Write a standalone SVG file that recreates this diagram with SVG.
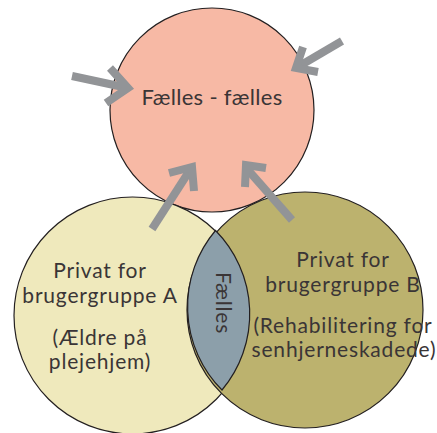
<svg xmlns="http://www.w3.org/2000/svg" width="437" height="433" viewBox="0 0 437 433">
<style>
.c{stroke:#231f20;stroke-width:1.2}
.t{font-family:Lato,"Open Sans",sans-serif;font-size:21px;fill:#3a3536;text-anchor:middle;letter-spacing:0.8px}
.a{fill:none;stroke:#929497;stroke-width:8;stroke-linecap:butt;stroke-linejoin:miter}
</style>
<rect width="437" height="433" fill="#ffffff"/>
<g id="node-top">
<circle class="c" cx="212" cy="110" r="102" fill="#F7B9A5"/>
<text class="t" x="212" y="105" style="font-size:22px;letter-spacing:0.3px">Fælles - fælles</text>
</g>
<g id="node-a">
<circle class="c" cx="132.5" cy="315.5" r="118.5" fill="#EFE9BC"/>
</g>
<g id="node-b">
<circle class="c" cx="305" cy="310" r="118" fill="#BCB26E"/>
</g>
<g id="node-shared">
<path class="c" fill="#8C9FAA" d="M215.5,230.5 A118,118 0 0 0 222,390 A118.5,118.5 0 0 0 215.5,230.5 Z"/>
<text class="t" transform="translate(216,303) rotate(90)" x="0" y="0">Fælles</text>
</g>
<g id="labels">
<text class="t" x="100" y="278">Privat for</text>
<text class="t" x="100" y="303">brugergruppe A</text>
<text class="t" x="100" y="345">(Ældre på</text>
<text class="t" x="100" y="369">plejehjem)</text>
<text class="t" x="343" y="267">Privat for</text>
<text class="t" x="343" y="292">brugergruppe B</text>
<text class="t" x="343" y="333">(Rehabilitering for</text>
<text class="t" x="344" y="357">senhjerneskadede)</text>
</g>
<g id="connectors">
<line class="a" x1="72" y1="76" x2="128" y2="88"/>
<polyline class="a" points="110,68 128,88 106,103"/>
<line class="a" x1="342" y1="41" x2="296" y2="68"/>
<polyline class="a" points="303,47 296,68 318,72"/>
<line class="a" x1="152" y1="229" x2="190" y2="170"/>
<polyline class="a" points="169,173 192,167 194,191"/>
<line class="a" x1="292" y1="220" x2="248" y2="170"/>
<polyline class="a" points="266,168 246,165 245,187"/>
</g>
</svg>
